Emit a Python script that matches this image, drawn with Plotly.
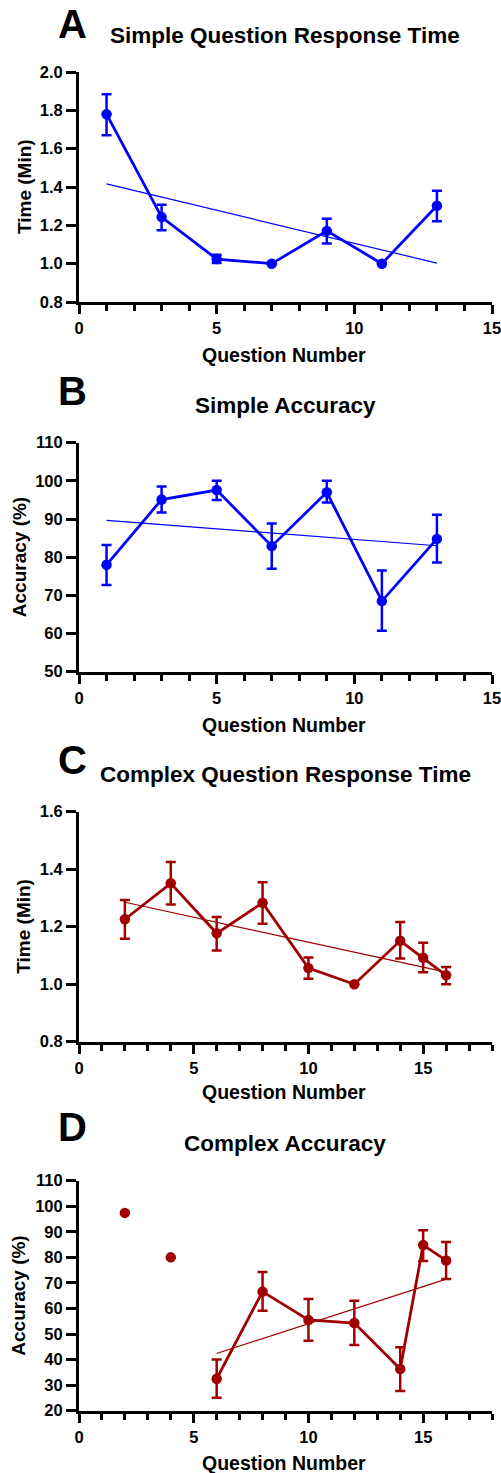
import plotly.graph_objects as go

W, H = 501, 1473
BLUE = "#0000FF"
RED = "#A00000"

# ---------------- Data ----------------
# Panel A: Simple Question Response Time
a_x = [1, 3, 5, 7, 9, 11, 13]
a_mean = [1.78, 1.243, 1.024, 1.0, 1.171, 1.0, 1.302]
a_upper = [1.884, 1.308, 1.046, 1.0, 1.235, 1.0, 1.381]
a_lower = [1.670, 1.175, 1.004, 1.0, 1.105, 1.0, 1.221]
a_trend_x = [1, 13]
a_trend_y = [1.416, 1.003]

# Panel B: Simple Accuracy
b_x = [1, 3, 5, 7, 9, 11, 13]
b_mean = [78.0, 95.1, 97.6, 82.9, 97.0, 68.5, 84.8]
b_upper = [83.2, 98.5, 100.0, 88.8, 100.0, 76.5, 91.1]
b_lower = [72.7, 91.7, 95.0, 77.0, 94.3, 60.7, 78.6]
b_trend_x = [1, 13]
b_trend_y = [89.65, 83.0]

# Panel C: Complex Question Response Time
c_x = [2, 4, 6, 8, 10, 12, 14, 15, 16]
c_mean = [1.226, 1.351, 1.177, 1.283, 1.056, 1.0, 1.151, 1.092, 1.031]
c_upper = [1.293, 1.425, 1.234, 1.355, 1.093, 1.0, 1.216, 1.144, 1.060]
c_lower = [1.158, 1.277, 1.117, 1.210, 1.019, 1.0, 1.089, 1.042, 1.0]
c_trend_x = [2, 16]
c_trend_y = [1.285, 1.042]

# Panel D: Complex Accuracy
d_iso_x = [2, 4]
d_iso_y = [97.4, 80.0]
d_x = [6, 8, 10, 12, 14, 15, 16]
d_mean = [32.5, 66.6, 55.5, 54.3, 36.3, 84.8, 78.8]
d_upper = [40.0, 74.3, 63.7, 63.0, 44.8, 90.6, 86.0]
d_lower = [25.1, 59.1, 47.4, 45.7, 27.7, 78.6, 71.5]
d_trend_x = [6, 16]
d_trend_y = [42.4, 71.5]

titles = ["Simple Question Response Time", "Simple Accuracy",
          "Complex Question Response Time", "Complex Accuracy"]
letters = ["A", "B", "C", "D"]
y_titles = ["Time (Min)", "Accuracy (%)", "Time (Min)", "Accuracy (%)"]
x_title = "Question Number"

# ---------------- Layout geometry (pixels) ----------------
PLOT_L, PLOT_R = 79, 492
panel_top = [72, 442.7, 811.7, 1180.7]
panel_bot = [302, 671.7, 1041.7, 1410.7]
title_y = [35.5, 405.7, 774.3, 1143.3]
letter_y = [24, 391, 760, 1127]
xtitle_y = [355, 725, 1092, 1463]
ytitle_x = [24, 19, 24, 19]

def px(x):
    return x / W

def py(y):
    return 1 - y / H

fig = go.Figure()

def add_series(i, x, mean, upper, lower, color, tx, ty):
    ax = "" if i == 0 else str(i + 1)
    plus = [u - m for u, m in zip(upper, mean)]
    minus = [m - l for m, l in zip(mean, lower)]
    fig.add_trace(go.Scatter(
        x=tx, y=ty, mode="lines", line=dict(color=color, width=1.2),
        xaxis="x" + ax, yaxis="y" + ax, showlegend=False, hoverinfo="skip"))
    fig.add_trace(go.Scatter(
        x=x, y=mean, mode="lines+markers",
        line=dict(color=color, width=2.8),
        marker=dict(color=color, size=10.5, symbol="circle"),
        error_y=dict(type="data", symmetric=False, array=plus, arrayminus=minus,
                     color=color, thickness=2.5, width=5),
        xaxis="x" + ax, yaxis="y" + ax, showlegend=False))

add_series(0, a_x, a_mean, a_upper, a_lower, BLUE, a_trend_x, a_trend_y)
add_series(1, b_x, b_mean, b_upper, b_lower, BLUE, b_trend_x, b_trend_y)
add_series(2, c_x, c_mean, c_upper, c_lower, RED, c_trend_x, c_trend_y)
add_series(3, d_x, d_mean, d_upper, d_lower, RED, d_trend_x, d_trend_y)
fig.add_trace(go.Scatter(
    x=d_iso_x, y=d_iso_y, mode="markers",
    marker=dict(color=RED, size=10.5, symbol="circle"),
    xaxis="x4", yaxis="y4", showlegend=False))

FONT = "Liberation Sans"
tickfont = dict(family=FONT, size=16.5, color="black", weight="bold")

x_ranges = [[0, 15], [0, 15], [0, 18], [0, 18]]
y_ranges = [[0.8, 2.0], [50, 110], [0.8, 1.6], [20, 110]]
y_dticks = [0.2, 10, 0.2, 10]
y_fmt = [".1f", "d", ".1f", "d"]

layout = dict(
    width=W, height=H,
    margin=dict(l=0, r=0, t=0, b=0, autoexpand=False),
    paper_bgcolor="white", plot_bgcolor="white",
    showlegend=False,
)
annotations = []
for i in range(4):
    ax = "" if i == 0 else str(i + 1)
    layout["xaxis" + ax] = dict(
        domain=[px(PLOT_L), px(PLOT_R)], anchor="y" + ax,
        range=x_ranges[i], tick0=0, dtick=5,
        showline=True, linecolor="black", linewidth=3,
        ticks="outside", ticklen=9, tickwidth=3, tickcolor="black",
        minor=dict(dtick=1, tick0=0, ticks="outside", ticklen=6, tickwidth=2.5,
                   tickcolor="black", showgrid=False),
        showgrid=False, zeroline=False, tickfont=tickfont,
        automargin=False, ticklabeloverflow="allow",
    )
    layout["yaxis" + ax] = dict(
        domain=[py(panel_bot[i]), py(panel_top[i])], anchor="x" + ax,
        range=y_ranges[i], dtick=y_dticks[i], tickformat=y_fmt[i],
        showline=True, linecolor="black", linewidth=3,
        ticks="outside", ticklen=10, tickwidth=3, tickcolor="black",
        showgrid=False, zeroline=False, tickfont=tickfont,
        automargin=False, ticklabeloverflow="allow",
    )
    annotations.append(dict(
        text=letters[i], x=px(72), y=py(letter_y[i]), xref="paper", yref="paper",
        showarrow=False, xanchor="center", yanchor="middle",
        font=dict(family=FONT, size=40, color="black", weight="bold")))
    annotations.append(dict(
        text=titles[i], x=px(285), y=py(title_y[i]), xref="paper", yref="paper",
        showarrow=False, xanchor="center", yanchor="middle",
        font=dict(family=FONT, size=22.5, color="black", weight="bold")))
    annotations.append(dict(
        text=x_title, x=px(284), y=py(xtitle_y[i]), xref="paper", yref="paper",
        showarrow=False, xanchor="center", yanchor="middle",
        font=dict(family=FONT, size=19.5, color="black", weight="bold")))
    annotations.append(dict(
        text=y_titles[i], x=px(ytitle_x[i]),
        y=py((panel_top[i] + panel_bot[i]) / 2), xref="paper", yref="paper",
        showarrow=False, xanchor="center", yanchor="middle", textangle=-90,
        font=dict(family=FONT, size=19, color="black", weight="bold")))
layout["annotations"] = annotations
fig.update_layout(**layout)

fig.write_html(
    "out.html",
    config={"displayModeBar": False},
    post_script="document.body.style.margin='0';document.body.style.overflow='hidden';",
)
